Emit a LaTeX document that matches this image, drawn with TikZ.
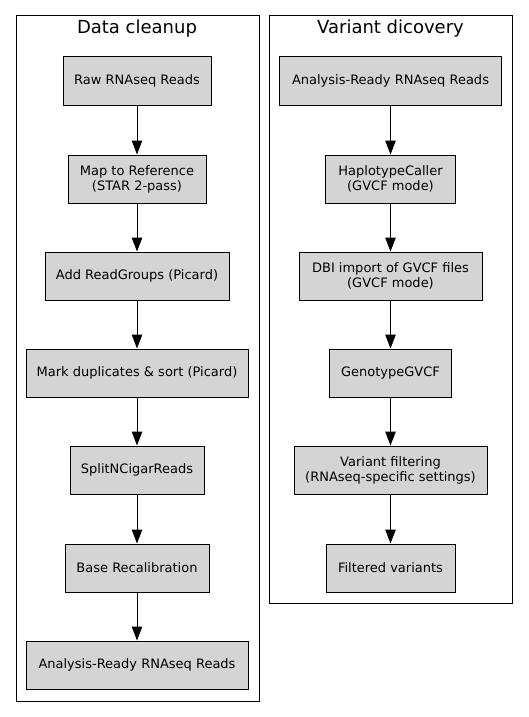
\documentclass[tikz,border=0pt]{standalone}
\usepackage{fontspec}
\setmainfont{DejaVu Sans}
\usetikzlibrary{arrows.meta}
\begin{document}
\begin{tikzpicture}[x=1pt,y=-1pt,
  stepbox/.style={draw=black, line width=1pt, fill=black!17, minimum height=48pt, inner sep=0pt, align=center, font=\fontsize{13}{15}\selectfont},
  cluster/.style={draw=black, line width=1pt},
  title/.style={font=\fontsize{18}{20}\selectfont, anchor=base},
  flow/.style={line width=1pt, -{Triangle[length=14pt,width=10.5pt]}}]
\useasboundingbox (0,0) rectangle (528,717);
% clusters
\draw[cluster] (16,16) rectangle (259,701);
\draw[cluster] (269,16) rectangle (512,603);
\node[title] (t1) at (137,34) {Data cleanup};
\node[title] (t2) at (390.5,34) {Variant dicovery};
% left column
\node[stepbox, minimum width=148pt] (a1) at (137,81) {Raw RNAseq Reads};
\node[stepbox, minimum width=138pt] (a2) at (137,179) {Map to Reference\\(STAR 2-pass)};
\node[stepbox, minimum width=184pt] (a3) at (137,276) {Add ReadGroups (Picard)};
\node[stepbox, minimum width=222pt] (a4) at (137,373) {Mark duplicates \& sort (Picard)};
\node[stepbox, minimum width=134pt] (a5) at (137,470) {SplitNCigarReads};
\node[stepbox, minimum width=144pt] (a6) at (137,568) {Base Recalibration};
\node[stepbox, minimum width=222pt] (a7) at (137,665) {Analysis-Ready RNAseq Reads};
% right column
\node[stepbox, minimum width=222pt] (b1) at (390.5,81) {Analysis-Ready RNAseq Reads};
\node[stepbox, minimum width=130pt] (b2) at (390.5,179) {HaplotypeCaller\\(GVCF mode)};
\node[stepbox, minimum width=183pt] (b3) at (390.5,276) {DBI import of GVCF files\hspace{4pt}\\(GVCF mode)};
\node[stepbox, minimum width=122pt] (b4) at (390.5,373) {GenotypeGVCF};
\node[stepbox, minimum width=193pt] (b5) at (390.5,470) {Variant filtering\\(RNAseq-specific settings)};
\node[stepbox, minimum width=129pt] (b6) at (390.5,568) {Filtered variants};
% connectors
\foreach \u/\v in {a1/a2,a2/a3,a3/a4,a4/a5,a5/a6,a6/a7,b1/b2,b2/b3,b3/b4,b4/b5,b5/b6}
  \draw[flow] (\u.south) -- (\v.north);
\end{tikzpicture}
\end{document}
